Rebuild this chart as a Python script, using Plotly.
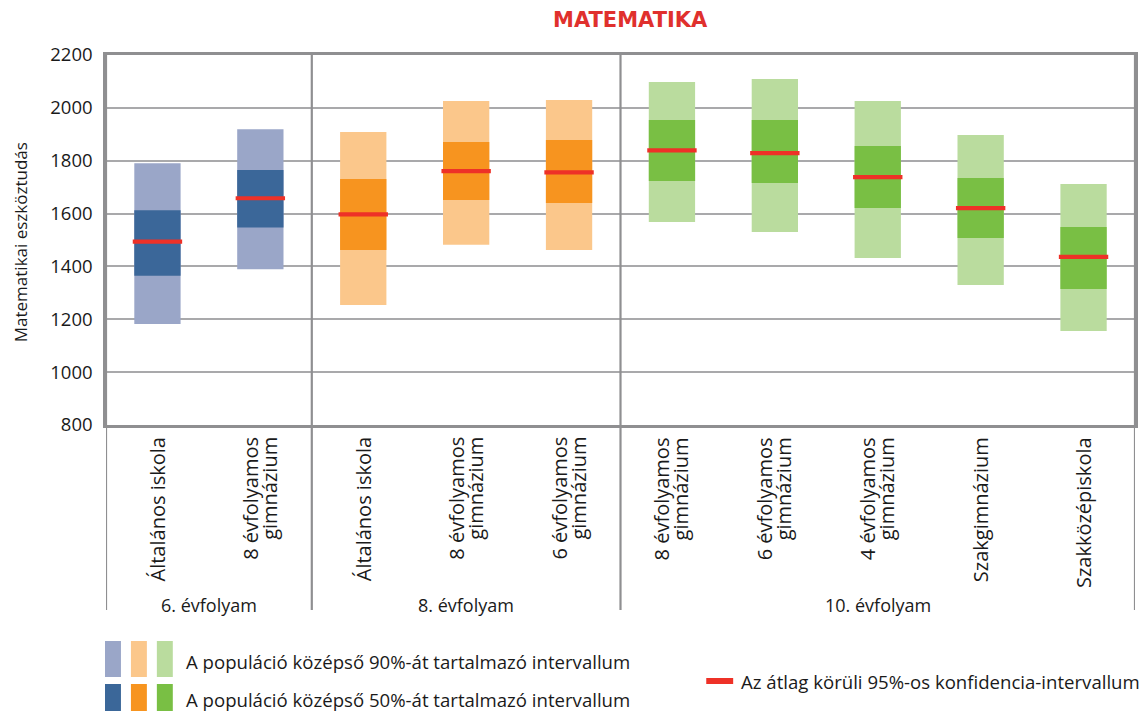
import plotly.graph_objects as go

# ---- data ----
categories = ["Általános iskola", "8 évfolyamos<br>gimnázium",
              "Általános iskola", "8 évfolyamos<br>gimnázium", "6 évfolyamos<br>gimnázium",
              "8 évfolyamos<br>gimnázium", "6 évfolyamos<br>gimnázium", "4 évfolyamos<br>gimnázium",
              "Szakgimnázium", "Szakközépiskola"]
group_names = ["6. évfolyam", "8. évfolyam", "10. évfolyam"]
group_of = [0, 0, 1, 1, 1, 2, 2, 2, 2, 2]
p5 = [1182, 1389, 1254, 1482, 1462, 1568, 1530, 1432, 1330, 1156]
p95 = [1790, 1919, 1909, 2026, 2030, 2098, 2109, 2026, 1897, 1712]
p25 = [1365, 1547, 1462, 1651, 1640, 1723, 1716, 1621, 1508, 1315]
p75 = [1613, 1765, 1731, 1871, 1878, 1954, 1954, 1856, 1735, 1549]
mean = [1494, 1658, 1597, 1761, 1756, 1839, 1829, 1738, 1621, 1436]
y_ticks = [800, 1000, 1200, 1400, 1600, 1800, 2000, 2200]

light_colors = ["#9aa6c8", "#fbc78b", "#badc9e"]
dark_colors = ["#3b6799", "#f7941f", "#79bf44"]
mean_color = "#ee3127"
legend_texts = ["A populáció középső 90%-át tartalmazó intervallum",
                "A populáció középső 50%-át tartalmazó intervallum",
                "Az átlag körüli 95%-os konfidencia-intervallum"]

FONT = "Open Sans"
TXT = "#1a1a1a"
W, H = 1145, 711
L, R, T, B = 106, 7, 55, 286
PW, PH = W - L - R, H - T - B

def px(xp):
    return (xp - L) / PW

def py(yp):
    return (H - B - yp) / PH

xs = list(range(len(categories)))
half = 8

fig = go.Figure()
fig.add_trace(go.Bar(x=xs, base=p5, y=[b - a for a, b in zip(p5, p95)], width=0.45,
                     marker=dict(color=[light_colors[g] for g in group_of], line=dict(width=0)),
                     hoverinfo="skip"))
fig.add_trace(go.Bar(x=xs, base=p25, y=[b - a for a, b in zip(p25, p75)], width=0.45,
                     marker=dict(color=[dark_colors[g] for g in group_of], line=dict(width=0)),
                     hoverinfo="skip"))
fig.add_trace(go.Bar(x=xs, base=[m - half for m in mean], y=[2 * half] * len(mean), width=0.48,
                     marker=dict(color=mean_color, line=dict(width=0)), hoverinfo="skip"))

frame_col = "#8f8f91"
grid_col = "#a9a9ab"

shapes = []
for xv in [-0.5, 1.5, 4.5, 9.5]:
    shapes.append(dict(type="line", xref="x", yref="paper", x0=xv, x1=xv, y0=py(610), y1=1,
                       line=dict(color=frame_col, width=2.2), layer="above"))

annotations = []
# category labels (rotated, tight line spacing for two-line labels)
for i, c in enumerate(categories):
    lines = c.split("<br>")
    shifts = [0] if len(lines) == 1 else [-10, 9]
    for ln, sh in zip(lines, shifts):
        annotations.append(dict(x=i, y=py(435), xref="x", yref="paper", text=ln, showarrow=False,
                                textangle=-90, xanchor="center", yanchor="top", xshift=sh,
                                font=dict(family=FONT, size=20, color=TXT)))
for gi, gname in enumerate(group_names):
    members = [i for i, g in enumerate(group_of) if g == gi]
    cx = (members[0] + members[-1]) / 2
    annotations.append(dict(x=cx, y=py(605), xref="x", yref="paper", text=gname, showarrow=False,
                            xanchor="center", yanchor="middle",
                            font=dict(family=FONT, size=18, color=TXT)))
annotations.append(dict(x=px(632), y=py(20), xref="paper", yref="paper", text="<b>MATEMATIKA</b>",
                        showarrow=False, xanchor="center", yanchor="middle",
                        font=dict(family="DejaVu Sans", size=21, color="#e0302d")))
annotations.append(dict(x=px(21), y=py(242), xref="paper", yref="paper", text="Matematikai eszköztudás",
                        showarrow=False, textangle=-90, xanchor="center", yanchor="middle",
                        font=dict(family=FONT, size=17, color=TXT)))

sw_x = [(105, 121), (131, 147), (157, 173)]
for (y0, y1, cols) in [(641, 677, light_colors), (684, 712, dark_colors)]:
    for (x0, x1), col in zip(sw_x, cols):
        shapes.append(dict(type="rect", xref="paper", yref="paper", x0=px(x0), x1=px(x1),
                           y0=py(y1), y1=py(y0), fillcolor=col, line=dict(width=0), layer="above"))
shapes.append(dict(type="rect", xref="paper", yref="paper", x0=px(708), x1=px(735),
                   y0=py(684), y1=py(678), fillcolor=mean_color, line=dict(width=0), layer="above"))
for txt, xx, yy in [(legend_texts[0], 184, 661), (legend_texts[1], 184, 699), (legend_texts[2], 741, 681)]:
    annotations.append(dict(x=px(xx), y=py(yy), xref="paper", yref="paper", text=txt, showarrow=False,
                            xanchor="left", yanchor="middle",
                            font=dict(family=FONT, size=18.6, color=TXT)))

fig.update_layout(
    width=W, height=H, margin=dict(l=L, r=R, t=T, b=B),
    paper_bgcolor="white", plot_bgcolor="white",
    barmode="overlay", showlegend=False,
    shapes=shapes, annotations=annotations,
    xaxis=dict(range=[-0.5, 9.5], showticklabels=False, showgrid=False, zeroline=False,
               showline=True, mirror=True, linecolor=frame_col, linewidth=2.5, ticks=""),
    yaxis=dict(range=[800, 2200], tickvals=y_ticks, showgrid=True, gridcolor=grid_col, gridwidth=1.5,
               zeroline=False, showline=True, mirror=True, linecolor=frame_col, linewidth=2.5,
               ticks="outside", ticklen=7, tickcolor="rgba(0,0,0,0)",
               tickfont=dict(family=FONT, size=18.5, color=TXT)),
)

fig.write_html("out.html", config={"displayModeBar": False})

# remove the browser's default page margin so the figure sits at the top-left corner
with open("out.html", encoding="utf-8") as f:
    html = f.read()
html = html.replace("<body>", '<body style="margin:0;padding:0;overflow:hidden">', 1)
with open("out.html", "w", encoding="utf-8") as f:
    f.write(html)
